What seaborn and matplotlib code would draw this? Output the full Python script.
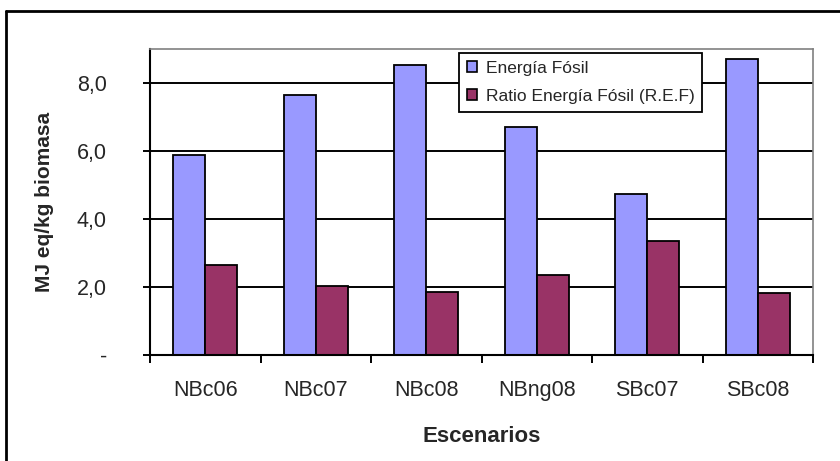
import matplotlib
matplotlib.use("Agg")
import matplotlib.pyplot as plt
import seaborn as sns
import pandas as pd
from matplotlib.lines import Line2D
from matplotlib.ticker import FixedLocator, FixedFormatter

escenarios = ["NBc06", "NBc07", "NBc08", "NBng08", "SBc07", "SBc08"]
energia_fosil = [5.88, 7.65, 8.53, 6.70, 4.75, 8.71]
ratio_ref = [2.65, 2.04, 1.86, 2.34, 3.35, 1.81]
series = ["Energía Fósil", "Ratio Energía Fósil (R.E.F)"]
y_ticks = [0, 2, 4, 6, 8]
y_tick_labels = ["-", "2,0", "4,0", "6,0", "8,0"]

df = pd.DataFrame({
    "escenario": escenarios * 2,
    "valor": energia_fosil + ratio_ref,
    "serie": [series[0]] * len(escenarios) + [series[1]] * len(escenarios),
})

sns.set_style("white")
plt.rcParams["font.family"] = ["Liberation Sans", "DejaVu Sans"]

fig = plt.figure(figsize=(8.4, 4.61), dpi=100)
ax = fig.add_axes([150 / 840, 1 - 355 / 461, 663 / 840, 306 / 461])

sns.barplot(data=df, x="escenario", y="valor", hue="serie",
            palette=["#9999FF", "#993366"], width=0.58,
            edgecolor="black", linewidth=1.3, saturation=1,
            errorbar=None, ax=ax)

# ejes y rejilla al estilo Excel
ax.set_ylim(0, 9)
ax.set_xlim(-0.5, len(escenarios) - 0.5)
ax.set_axisbelow(True)
for y in y_ticks[1:]:
    ax.axhline(y, color="black", lw=1.4, zorder=0)

ax.yaxis.set_major_locator(FixedLocator(y_ticks))
ax.yaxis.set_major_formatter(FixedFormatter(y_tick_labels))
ax.tick_params(axis="y", length=5, width=1.4, direction="out", pad=26,
               labelsize=15.5, left=True, color="black")

# ticks en las fronteras de categoria, etiquetas en el centro
ax.xaxis.set_major_locator(FixedLocator([i - 0.5 for i in range(len(escenarios) + 1)]))
ax.xaxis.set_major_formatter(FixedFormatter([""] * (len(escenarios) + 1)))
ax.xaxis.set_minor_locator(FixedLocator(list(range(len(escenarios)))))
ax.xaxis.set_minor_formatter(FixedFormatter(escenarios))
ax.tick_params(axis="x", which="major", length=6, width=1.4, direction="out",
               bottom=True, color="black")
ax.tick_params(axis="x", which="minor", length=0, pad=18, labelsize=15.5)

for s in ["left", "bottom"]:
    ax.spines[s].set_color("black")
    ax.spines[s].set_linewidth(1.5)
for s in ["top", "right"]:
    ax.spines[s].set_color("#808080")
    ax.spines[s].set_linewidth(1.2)

ax.set_xlabel("Escenarios", fontsize=16, fontweight="bold", va="center")
ax.set_ylabel("MJ eq/kg biomasa", fontsize=15, fontweight="bold", va="center")
ax.xaxis.set_label_coords(0.5, (355 - 436) / 306)
ax.yaxis.set_label_coords((45 - 150) / 663, 0.5)

leg = ax.legend(loc="upper left", bbox_to_anchor=((459 - 150) / 663, (355 - 53) / 306),
                fontsize=12.5, frameon=True, fancybox=False, edgecolor="black",
                framealpha=1, handlelength=0.6, handleheight=0.6, handletextpad=0.5,
                labelspacing=0.75, borderpad=0.45, borderaxespad=0)
leg.get_frame().set_linewidth(1.3)
for h in leg.legend_handles:
    h.set_edgecolor("black")
    h.set_linewidth(1.2)

# marco exterior del grafico
fig.add_artist(Line2D([6 / 840, 6 / 840], [0, 1 - 11 / 461], color="black", lw=2,
                      transform=fig.transFigure))
fig.add_artist(Line2D([6 / 840, 1], [1 - 11 / 461, 1 - 11 / 461], color="black", lw=2,
                      transform=fig.transFigure))

fig.savefig("out.png", dpi=100)
